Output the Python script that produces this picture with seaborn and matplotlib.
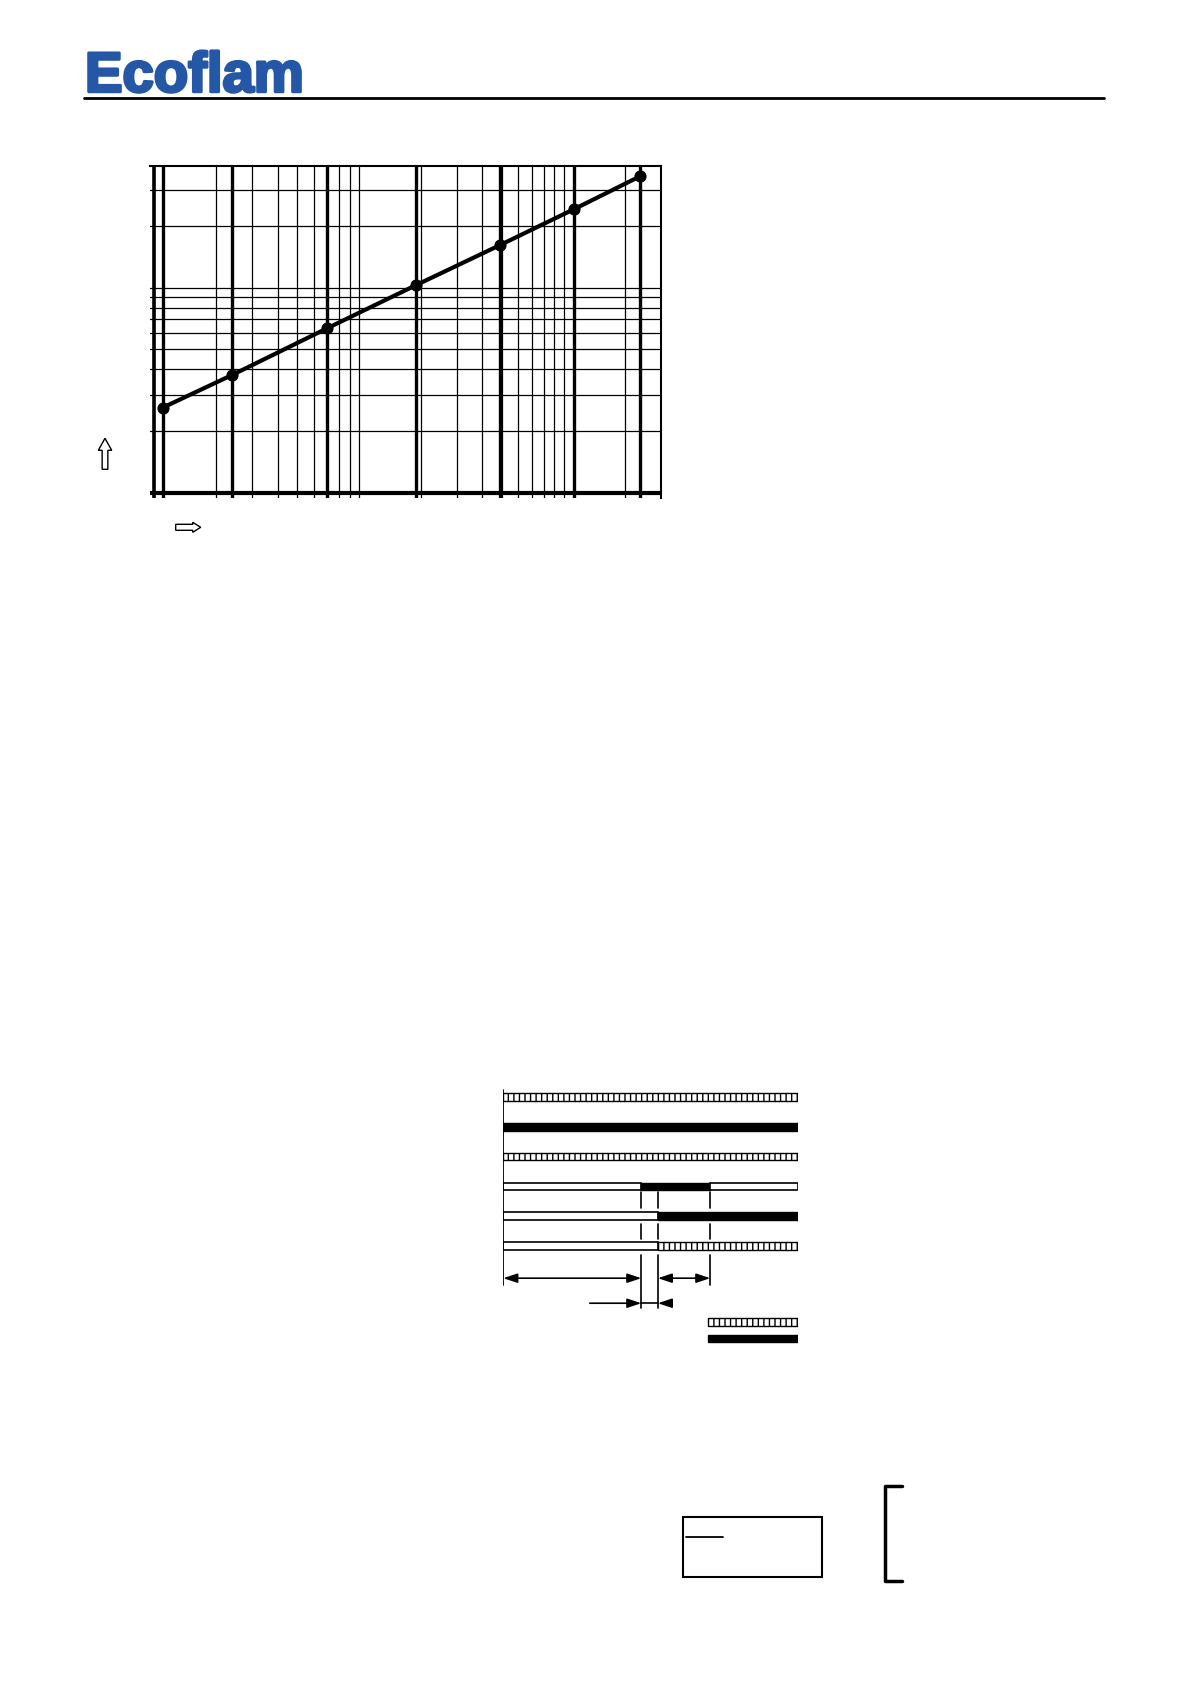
import numpy as np
import matplotlib
matplotlib.use("Agg")
import matplotlib.pyplot as plt
import matplotlib.patheffects as pe
from matplotlib.patches import Rectangle, FancyArrow
from matplotlib.ticker import LogLocator, NullFormatter
import seaborn as sns

# curve on the log-log chart (labels are blanked in the scan)
flow = [1.1, 2.4, 7.0, 18.9, 48.7, 112, 236]
pressure = [2.6, 3.75, 6.34, 10.26, 16.1, 24.1, 34.9]

# timing diagram, times in seconds
t_prepurge = 30
t_ignition = 33.6
t_safety = 45
t_end = 64
row_segments = [
    [(0, t_end, "hatch")],
    [(0, t_end, "solid")],
    [(0, t_end, "hatch")],
    [(0, t_prepurge, "open"), (t_prepurge, t_safety, "solid"), (t_safety, t_end, "open")],
    [(0, t_ignition, "open"), (t_ignition, t_end, "solid")],
    [(0, t_ignition, "open"), (t_ignition, t_end, "hatch")],
]
legend_styles = ["hatch", "solid"]

sns.set_style("white")
plt.rcParams["font.family"] = ["Liberation Sans", "DejaVu Sans"]
plt.rcParams["hatch.linewidth"] = 1.0

W, H = 1190, 1684
fig = plt.figure(figsize=(W / 100, H / 100), dpi=100)

# whole-page layer in pixel units (y down)
page = fig.add_axes([0, 0, 1, 1])
page.set_xlim(0, W)
page.set_ylim(H, 0)
page.axis("off")

logo_blue = "#2457a6"
page.text(85, 91.7, "Ecoflam", fontsize=40.5, fontweight="bold", color=logo_blue,
          va="baseline", ha="left",
          path_effects=[pe.withStroke(linewidth=2.2, foreground=logo_blue)])
page.plot([84, 1104], [97.5, 97.5], color="black", lw=2)

# hollow arrows beside the chart
page.add_patch(FancyArrow(105, 469.3, 0, -31, width=5.7, head_width=13.4, head_length=12,
                          length_includes_head=True, fc="white", ec="black", lw=1))
page.add_patch(FancyArrow(175.7, 527.3, 25, 0, width=6, head_width=10, head_length=8,
                          length_includes_head=True, fc="white", ec="black", lw=1))

# box and bracket at the bottom
page.add_patch(Rectangle((683.3, 1517.3), 138.4, 60, fill=False, ec="black", lw=1.5))
page.plot([686, 722.7], [1537.3, 1537.3], color="black", lw=1.3)
page.plot([901.7, 885, 885, 901.7], [1486, 1486, 1580.7, 1580.7], color="black", lw=2.5)

# ---- log-log chart ----
ax = fig.add_axes([150 / W, 1 - 498.4 / H, 511.3 / W, 332.4 / H])
ax.set_xscale("log")
ax.set_yscale("log")
ax.set_xlim(0.953, 300)
ax.set_ylim(0.938, 39.2)
for axis in (ax.xaxis, ax.yaxis):
    axis.set_major_locator(LogLocator(base=10, subs=np.arange(1, 10), numticks=60))
    axis.set_minor_locator(LogLocator(base=10, subs=[], numticks=60))
    axis.set_major_formatter(NullFormatter())
    axis.set_minor_formatter(NullFormatter())
ax.tick_params(which="both", length=0)
ax.grid(True, which="major", color="black", lw=0.9)
ax.set_axisbelow(True)
for side in ("left", "bottom"):
    ax.spines[side].set_visible(False)
for side in ("top", "right"):
    ax.spines[side].set_color("black")
    ax.spines[side].set_linewidth(1.5)

ax.axvline(1, color="black", lw=2.6)
for f in flow:
    ax.axvline(f, color="black", lw=2.4)
ax.axhline(1, color="black", lw=3)

sns.lineplot(x=flow, y=pressure, ax=ax, color="black", lw=3, marker="o",
             markersize=8, markeredgecolor="black", zorder=5)
ax.set_xlabel("")
ax.set_ylabel("")

# ---- timing diagram ----
tx = fig.add_axes([503.3 / W, 1 - 1350 / H, 294.4 / W, 265 / H])
tx.set_xlim(0, t_end)
tx.set_ylim(8.49, -0.403)
tx.axis("off")

bar_h = 0.25


def draw_bar(ax_, y, start, end, style):
    if style == "solid":
        ax_.barh(y, end - start, left=start, height=bar_h, color="black", ec="black", lw=1)
    elif style == "hatch":
        ax_.barh(y, end - start, left=start, height=bar_h, color="white", ec="black",
                 lw=1, hatch="|||")
    else:
        ax_.barh(y, end - start, left=start, height=bar_h, color="white", ec="black", lw=1.2)


for i, segs in enumerate(row_segments):
    for start, end, style in segs:
        draw_bar(tx, i, start, end, style)

# time axis and event markers
tx.plot([0, 0], [-0.235, 6.31], color="black", lw=1.3)
events = [t_prepurge, t_ignition, t_safety]
for t in events:
    tx.plot([t, t], [3.19, 3.72], color="black", lw=1.2)
    tx.plot([t, t], [4.26, 4.77], color="black", lw=1.2)
tx.plot([t_prepurge, t_prepurge], [5.3, 7.08], color="black", lw=1.2)
tx.plot([t_ignition, t_ignition], [5.3, 7.08], color="black", lw=1.2)
tx.plot([t_safety, t_safety], [5.3, 6.31], color="black", lw=1.2)

arrow = dict(arrowstyle="<|-|>,head_length=0.6,head_width=0.2", mutation_scale=14,
             lw=1.2, color="black", shrinkA=0, shrinkB=0)
tx.annotate("", xy=(0, 6.08), xytext=(t_prepurge, 6.08), arrowprops=arrow)
tx.annotate("", xy=(t_ignition, 6.08), xytext=(t_safety, 6.08), arrowprops=arrow)
one_way = dict(arrow, arrowstyle="-|>,head_length=0.6,head_width=0.2")
tx.annotate("", xy=(t_prepurge, 6.92), xytext=(18.8, 6.92), arrowprops=one_way)
tx.annotate("", xy=(t_ignition, 6.92), xytext=(36.2, 6.92), arrowprops=one_way)
tx.plot([t_prepurge, t_ignition], [6.92, 6.92], color="black", lw=1.2)

# legend keys
for k, style in enumerate(legend_styles):
    draw_bar(tx, 7.55 + 0.56 * k, 44.6, t_end, style)

fig.savefig("out.png", dpi=100)
